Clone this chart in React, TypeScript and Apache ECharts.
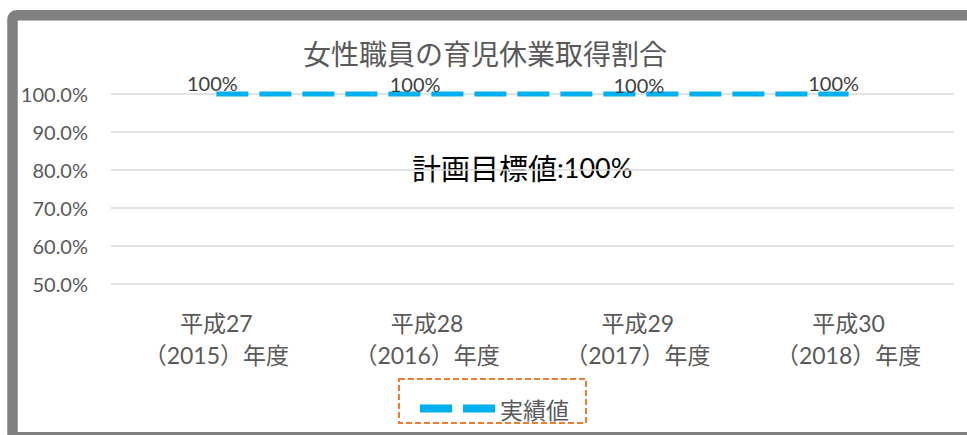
import React, { useEffect, useRef } from 'react';
import * as echarts from 'echarts';

const chartTitle = '女性職員の育児休業取得割合';
const eraLabels = ['平成27', '平成28', '平成29', '平成30'];
const yearLabels = ['（2015）年度', '（2016）年度', '（2017）年度', '（2018）年度'];
const actualValues = [100, 100, 100, 100];
const seriesName = '実績値';
const targetLabel = '計画目標値';
const targetValue = 100;
const yMin = 50;
const yMax = 100;
const yStep = 10;

// small per-label nudges, as in the source chart
const labelOffsets = [[-4, 1], [-12, 2], [1, 3], [-15, 1]];

const FONT = "Lato, 'Noto Sans CJK JP', sans-serif";
const CJK = "'Noto Sans CJK JP', sans-serif";

export default function App() {
  const ref = useRef<HTMLDivElement>(null);
  useEffect(() => {
    if (!ref.current) return;
    const chart = echarts.init(ref.current, null, { renderer: 'svg' });
    const categories = eraLabels.map((e, i) => `${e}\n${yearLabels[i]}`);
    chart.setOption({
      animation: false,
      backgroundColor: '#ffffff',
      textStyle: { fontFamily: FONT },
      title: {
        text: chartTitle,
        left: 303,
        top: 39,
        padding: 0,
        textStyle: {
          fontFamily: CJK,
          fontSize: 28,
          lineHeight: 28,
          fontWeight: 'normal',
          color: '#595959',
        },
      },
      grid: { left: 111, right: 13, top: 94, bottom: 151, containLabel: false },
      xAxis: {
        type: 'category',
        data: categories,
        boundaryGap: true,
        axisLine: { show: false },
        axisTick: { show: false },
        axisLabel: {
          margin: 23,
          fontFamily: FONT,
          fontSize: 23,
          lineHeight: 32,
          color: '#595959',
          interval: 0,
        },
      },
      yAxis: {
        type: 'value',
        min: yMin,
        max: yMax,
        interval: yStep,
        axisLine: { show: false },
        axisTick: { show: false },
        axisLabel: {
          margin: 23,
          fontFamily: FONT,
          fontSize: 20,
          color: '#595959',
          formatter: (v: number) => `${v.toFixed(1)}%`,
        },
        splitLine: { lineStyle: { color: '#D9D9D9', width: 1.5 } },
      },
      legend: {
        show: true,
        left: 420,
        top: 397,
        padding: 0,
        itemWidth: 75,
        itemHeight: 8,
        data: [{ name: seriesName, icon: 'path://M0,0H32V8H0Z M43,0H75V8H43Z' }],
        textStyle: { fontFamily: CJK, fontSize: 23, color: '#595959' },
      },
      series: [
        {
          name: seriesName,
          type: 'line',
          clip: false,
          symbol: 'circle',
          symbolSize: 0.01,
          showSymbol: true,
          color: '#00B0F0',
          lineStyle: { color: '#00B0F0', width: 5, type: [32, 11], cap: 'butt' },
          itemStyle: { color: '#00B0F0' },
          label: {
            show: true,
            position: 'top',
            distance: 3,
            fontFamily: FONT,
            fontSize: 20,
            lineHeight: 17,
            color: '#404040',
            formatter: '{c}%',
          },
          data: actualValues.map((v, i) => ({ value: v, label: { offset: labelOffsets[i] } })),
        },
      ],
      graphic: [
        {
          type: 'rect',
          silent: true,
          z: -1,
          shape: { x: 12.5, y: 15.2, width: 1000, height: 422, r: 4 },
          style: { fill: 'none', stroke: '#808080', lineWidth: 10.5 },
        },
        {
          type: 'rect',
          silent: true,
          shape: { x: 399, y: 379, width: 187, height: 44 },
          style: { fill: 'none', stroke: '#ED7D31', lineWidth: 2, lineDash: [6, 3] },
        },
        {
          type: 'text',
          silent: true,
          x: 412,
          y: 167,
          style: {
            text: `{a|${targetLabel}}{b|:${targetValue}%}`,
            verticalAlign: 'middle',
            fill: '#000000',
            rich: {
              a: { fontFamily: CJK, fontSize: 29, fill: '#000000' },
              b: { fontFamily: FONT, fontSize: 27, fill: '#000000' },
            },
          },
        },
      ],
    });
    return () => chart.dispose();
  }, []);
  return (
    <div
      ref={ref}
      style={{ position: 'fixed', left: 0, top: 0, width: 967, height: 435, background: '#fff' }}
    />
  );
}
